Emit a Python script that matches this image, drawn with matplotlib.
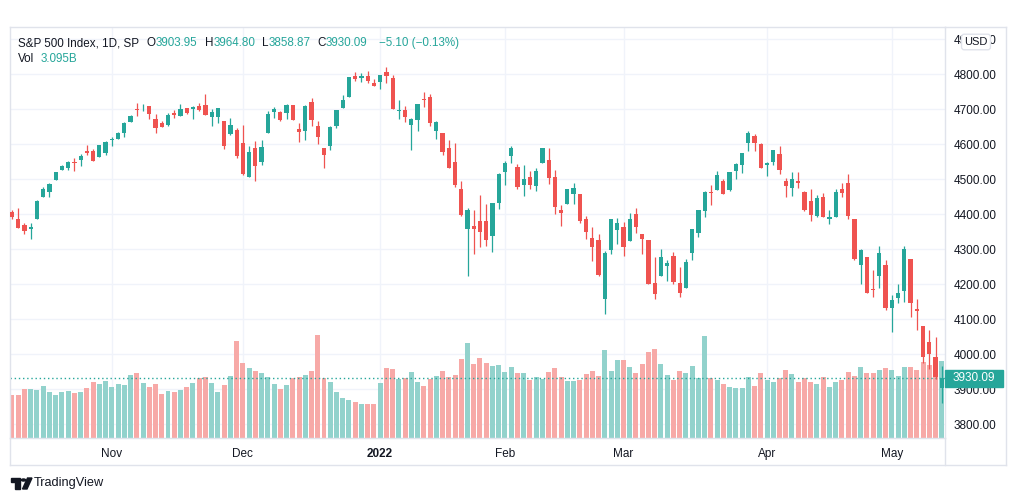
import numpy as np
import pandas as pd
import matplotlib
matplotlib.use("Agg")
import matplotlib.pyplot as plt
import matplotlib.transforms as mtransforms
from matplotlib.lines import Line2D
from matplotlib.patches import Rectangle, Polygon, Circle

plt.rcParams['font.family'] = ['Liberation Sans', 'DejaVu Sans']

# trading days shown (Oct 8 2021 .. May 12 2022)
holidays = ["2021-11-25", "2021-12-24", "2022-01-17", "2022-02-21", "2022-04-15"]
days = pd.bdate_range("2021-10-08", "2022-05-12", freq="C", holidays=holidays)

opens = [
    4406.5, 4385.4, 4368.3, 4358.0, 4386.8, 4447.7, 4463.7, 4497.3, 4524.4, 4532.2, 4546.1, 4553.7, 4578.7, 4580.2, 4562.8, 4572.9,
    4610.6, 4613.3, 4630.7, 4662.9, 4699.3, 4701.5, 4707.3, 4670.3, 4659.4, 4655.2, 4689.3, 4679.4, 4701.5, 4700.7, 4708.4, 4712.0, 4678.5, 4675.8, 4664.6, 4628.8, 4640.3,
    4602.8, 4504.7, 4589.5, 4548.4, 4632.0, 4690.9, 4691.0, 4687.6, 4710.3, 4643.0, 4636.5, 4719.1, 4652.5, 4587.9, 4595.0, 4650.4, 4704.0, 4734.0, 4795.5, 4788.6, 4794.2, 4775.2,
    4778.1, 4804.5, 4788.0, 4693.4, 4697.7, 4655.3, 4669.1, 4728.6, 4733.6, 4638.0, 4632.2, 4588.0, 4547.4, 4471.4, 4356.3, 4366.6, 4380.6, 4380.6, 4336.2, 4431.8,
    4519.6, 4566.4, 4535.4, 4482.8, 4505.8, 4480.0, 4547.0, 4553.2, 4506.3, 4412.6, 4429.3, 4455.8, 4456.1, 4384.6, 4332.7, 4324.9, 4155.8, 4298.4, 4354.2,
    4363.1, 4322.6, 4401.3, 4342.1, 4327.0, 4202.7, 4223.1, 4252.6, 4279.5, 4202.8, 4188.8, 4288.1, 4345.1, 4407.3, 4462.4, 4469.1, 4493.1, 4470.0, 4522.9, 4541.1, 4602.9, 4624.2, 4599.0,
    4540.3, 4548.0, 4572.5, 4494.2, 4474.7, 4494.2, 4462.6, 4437.6, 4394.3, 4449.1, 4385.6, 4390.6, 4472.3, 4489.2, 4385.8, 4255.3, 4278.1, 4186.5, 4222.6, 4253.8,
    4130.6, 4159.8, 4181.2, 4270.4, 4128.2, 4081.3, 4035.2, 3990.1, 3903.95,
]
highs = [
    4412.0, 4415.9, 4374.9, 4372.9, 4439.7, 4475.8, 4488.8, 4520.4, 4540.9, 4551.4, 4559.7, 4572.6, 4598.5, 4584.6, 4597.6, 4608.1,
    4620.3, 4635.2, 4663.5, 4683.0, 4718.5, 4714.9, 4708.5, 4684.9, 4664.6, 4688.5, 4697.4, 4715.0, 4701.5, 4708.8, 4717.8, 4743.8, 4699.4, 4702.9, 4664.6, 4673.0, 4646.0,
    4652.9, 4595.5, 4608.0, 4612.6, 4694.0, 4705.1, 4695.3, 4713.6, 4710.3, 4660.5, 4712.6, 4732.0, 4666.7, 4587.9, 4651.1, 4697.7, 4740.7, 4791.5, 4807.0, 4804.1, 4808.9, 4786.8,
    4796.6, 4818.6, 4797.7, 4725.0, 4708.0, 4673.0, 4714.1, 4748.8, 4744.1, 4665.1, 4632.2, 4611.6, 4602.1, 4494.5, 4417.4, 4411.0, 4453.2, 4428.7, 4432.7, 4516.9,
    4550.5, 4595.3, 4542.9, 4539.7, 4521.9, 4531.3, 4590.0, 4588.9, 4526.3, 4426.2, 4472.8, 4489.6, 4456.1, 4394.6, 4362.1, 4341.5, 4294.7, 4385.3, 4388.8,
    4378.5, 4401.5, 4416.8, 4342.1, 4327.0, 4276.9, 4299.4, 4268.3, 4291.0, 4247.6, 4271.1, 4357.9, 4412.7, 4465.4, 4481.8, 4522.0, 4501.1, 4520.6, 4546.0, 4575.7, 4637.3, 4627.8, 4603.1,
    4548.7, 4583.5, 4593.5, 4503.9, 4521.2, 4520.4, 4464.4, 4471.0, 4453.9, 4460.5, 4410.3, 4471.0, 4488.3, 4512.9, 4385.8, 4299.0, 4278.1, 4240.7, 4308.5, 4269.7,
    4169.8, 4200.1, 4307.7, 4270.4, 4157.7, 4081.3, 4068.8, 4049.1, 3964.80,
]
lows = [
    4386.2, 4360.6, 4342.1, 4329.9, 4386.8, 4447.7, 4447.5, 4496.4, 4524.4, 4526.9, 4524.0, 4537.4, 4569.2, 4551.7, 4562.8, 4567.6,
    4595.1, 4613.3, 4621.2, 4662.6, 4681.3, 4694.4, 4670.9, 4630.9, 4648.3, 4650.8, 4672.9, 4679.4, 4684.4, 4672.8, 4694.2, 4682.2, 4652.7, 4659.9, 4585.4, 4625.3, 4560.0,
    4510.3, 4504.7, 4495.1, 4540.5, 4632.0, 4674.5, 4666.0, 4670.2, 4667.6, 4606.5, 4611.2, 4651.9, 4600.2, 4531.1, 4583.2, 4645.5, 4704.0, 4734.0, 4780.0, 4778.1, 4775.3, 4765.8,
    4758.2, 4774.3, 4699.4, 4671.3, 4662.7, 4582.2, 4638.3, 4706.7, 4650.3, 4614.8, 4568.7, 4530.2, 4478.0, 4395.3, 4222.6, 4287.1, 4304.8, 4309.5, 4292.5, 4414.0,
    4483.5, 4544.3, 4470.4, 4451.5, 4471.5, 4465.4, 4547.0, 4484.3, 4401.4, 4364.8, 4429.3, 4429.7, 4373.8, 4327.2, 4267.1, 4221.5, 4114.7, 4286.8, 4315.1,
    4279.5, 4322.6, 4345.6, 4285.0, 4199.9, 4157.9, 4223.1, 4209.8, 4200.5, 4161.7, 4187.9, 4267.9, 4335.7, 4390.6, 4424.3, 4469.1, 4455.8, 4465.2, 4501.1, 4517.7, 4581.2, 4581.3, 4530.4,
    4507.6, 4539.2, 4514.2, 4450.0, 4450.3, 4474.6, 4408.4, 4381.3, 4392.7, 4390.8, 4370.3, 4390.6, 4448.8, 4384.5, 4267.6, 4200.8, 4175.0, 4162.9, 4188.6, 4124.3,
    4062.5, 4147.1, 4148.9, 4106.0, 4067.9, 3975.5, 3958.2, 3928.8, 3858.87,
]
closes = [
    4391.3, 4361.2, 4350.7, 4363.8, 4438.3, 4471.4, 4486.5, 4519.6, 4536.2, 4549.8, 4544.9, 4566.5, 4574.8, 4551.7, 4596.4, 4605.4,
    4613.7, 4630.7, 4660.6, 4680.1, 4697.5, 4701.7, 4685.3, 4646.7, 4649.3, 4682.9, 4682.8, 4700.9, 4688.7, 4704.5, 4698.0, 4682.9, 4690.7, 4701.5, 4594.6, 4655.3, 4567.0,
    4513.0, 4577.1, 4538.4, 4591.7, 4686.8, 4701.2, 4667.5, 4712.0, 4669.0, 4634.1, 4709.9, 4668.7, 4620.6, 4568.0, 4649.2, 4696.6, 4725.8, 4791.2, 4786.4, 4793.1, 4778.7, 4766.2,
    4796.6, 4793.5, 4700.6, 4696.1, 4677.0, 4670.3, 4713.1, 4726.4, 4659.0, 4662.9, 4577.1, 4532.8, 4482.7, 4397.9, 4410.1, 4356.5, 4349.9, 4326.5, 4431.9, 4515.6,
    4546.5, 4589.4, 4477.4, 4500.5, 4483.9, 4521.5, 4587.2, 4504.1, 4418.6, 4401.7, 4471.1, 4475.0, 4380.3, 4348.9, 4304.8, 4225.5, 4288.7, 4384.7, 4373.9,
    4306.3, 4386.5, 4363.5, 4328.9, 4201.1, 4170.7, 4277.9, 4259.5, 4204.3, 4173.1, 4262.5, 4357.9, 4411.7, 4463.1, 4461.2, 4511.6, 4456.2, 4520.2, 4543.1, 4575.5, 4631.6, 4602.5, 4530.4,
    4545.9, 4582.6, 4525.1, 4481.2, 4500.2, 4488.3, 4412.5, 4397.5, 4446.6, 4392.6, 4391.7, 4462.2, 4459.5, 4393.7, 4271.8, 4296.1, 4175.2, 4184.0, 4287.5, 4131.9,
    4155.4, 4175.5, 4300.2, 4146.9, 4123.3, 3991.2, 4001.1, 3935.2, 3930.09,
]
# volume, billions
volume = [
    1.74, 1.74, 1.97, 1.97, 1.94, 2.07, 1.86, 1.73, 1.85, 1.89, 1.81, 1.86, 2.01, 2.25, 2.18, 2.30,
    2.05, 2.18, 2.14, 2.54, 2.62, 2.21, 2.05, 2.18, 1.77, 1.89, 1.86, 1.94, 2.05, 2.21, 2.40, 2.45, 2.21, 1.86, 2.14, 2.48, 3.91,
    3.01, 2.81, 2.69, 2.61, 2.45, 2.18, 1.97, 2.13, 2.40, 2.45, 2.54, 2.69, 4.15, 2.41, 2.25, 1.86, 1.61, 1.53, 1.45, 1.37, 1.37, 1.37,
    2.21, 2.81, 2.77, 2.37, 2.41, 2.65, 2.25, 2.07, 2.37, 2.50, 2.69, 2.45, 2.54, 3.17, 3.82, 2.99, 3.21, 3.01, 2.90, 2.93,
    2.66, 2.85, 2.61, 2.61, 2.34, 2.45, 2.37, 2.66, 2.81, 2.45, 2.29, 2.29, 2.34, 2.58, 2.69, 2.50, 3.55, 2.69, 3.15,
    3.15, 2.85, 2.61, 2.99, 3.47, 3.57, 2.99, 2.53, 2.34, 2.69, 2.61, 2.90, 2.41, 4.08, 2.41, 2.34, 2.18, 2.03, 2.01, 1.99, 2.45, 2.10, 2.61,
    2.34, 2.26, 2.41, 2.74, 2.58, 2.26, 2.41, 2.24, 2.18, 2.45, 2.05, 2.24, 2.34, 2.64, 2.50, 2.85, 2.61, 2.61, 2.74, 2.82,
    2.74, 2.50, 2.85, 2.85, 2.72, 3.07, 2.93, 3.23, 3.095,
]

month_labels = ["Nov", "Dec", "2022", "Feb", "Mar", "Apr", "May"]
price_ticks = [3800, 3900, 4000, 4100, 4200, 4300, 4400, 4500, 4600, 4700, 4800, 4900]

UP, DOWN = "#26a69a", "#ef5350"
VUP, VDOWN = "#92d2cc", "#f7a9a7"
GRID, FRAME, TEXT = "#f0f3fa", "#e0e3eb", "#131722"

W, H = 1012, 501
def fx(px):
    return px / W
def fy(py):
    return 1 - py / H

o, h, l, c = map(np.array, (opens, highs, lows, closes))
v = np.array(volume)
x = np.arange(len(c))
up = c >= o
tick_pos = [i for i in range(1, len(days)) if days[i].month != days[i - 1].month]

fig = plt.figure(figsize=(W / 100, H / 100), dpi=100)
rect = [fx(10), fy(438), fx(945) - fx(10), fy(27) - fy(438)]
axv = fig.add_axes(rect)               # grid + volume (bottom layer)
ax = fig.add_axes(rect, sharex=axv)    # candles (top layer)
ax.patch.set_visible(False)

ax.set_xlim(-0.32, 149.52)
ax.set_ylim(3760, 4934.3)
axv.set_ylim(0, 16.5)

# grid below everything
for t in tick_pos:
    axv.axvline(t, color=GRID, lw=1, zorder=0)
blend = mtransforms.blended_transform_factory(axv.transAxes, ax.transData)
for p in price_ticks:
    axv.plot([0, 1], [p, p], color=GRID, lw=1, transform=blend, zorder=0)

axv.bar(x, v, 0.8, color=np.where(up, VUP, VDOWN), linewidth=0, zorder=2)
axv.set_yticks([])
axv.tick_params(labelbottom=False, length=0)
for s in axv.spines.values():
    s.set_visible(False)

# candles
col = np.where(up, UP, DOWN)
ax.vlines(x, l, h, colors=col, lw=0.9, zorder=3)
ax.bar(x, np.maximum(np.abs(c - o), 2.5), 0.68, bottom=np.minimum(o, c),
       color=col, linewidth=0, zorder=4)

# last price line
ax.axhline(c[-1], color=UP, lw=1, ls=(0, (1, 2)), zorder=2)

ax.yaxis.tick_right()
ax.set_yticks(price_ticks, [f"{p:.2f}" for p in price_ticks])
ax.set_xticks(tick_pos, month_labels)
ax.get_xticklabels()[2].set_fontweight("bold")
ax.tick_params(axis="y", length=0, pad=6, labelsize=8.5, labelcolor=TEXT)
ax.tick_params(axis="x", length=0, pad=7, labelsize=8.5, labelcolor=TEXT)
for s in ax.spines.values():
    s.set_color(FRAME)
    s.set_linewidth(1)

# price label on axis
pb = mtransforms.blended_transform_factory(ax.transAxes, ax.transData)
ax.add_patch(Rectangle((1.0, c[-1] - 23), 0.0625, 46, transform=pb, color=UP,
                       clip_on=False, zorder=6))
ax.text(1.0085, c[-1], f"{c[-1]:.2f}", transform=pb, color="white", fontsize=8.5,
        va="center", ha="left", zorder=7)

# outer frame
for xs, ys in [((10, 1006), (465, 465)), ((1006, 1006), (27, 465)), ((945, 1006), (27, 27)),
               ((10, 10), (438, 465)), ((945, 945), (438, 465))]:
    fig.add_artist(Line2D([fx(xs[0]), fx(xs[1])], [fy(ys[0]), fy(ys[1])],
                          transform=fig.transFigure, color=FRAME, lw=1))

fig.text(fx(976), fy(42), "USD", fontsize=8, color=TEXT, ha="center", va="center",
         bbox=dict(boxstyle="round,pad=0.25", fc="white", ec=FRAME, lw=1))

# legend line, laid out piece by piece
renderer = fig.canvas.get_renderer()
def row(pieces, px, py):
    for s, cc, gap in pieces:
        t = fig.text(fx(px), fy(py), s, fontsize=8.4, color=cc, ha="left", va="center")
        px += t.get_window_extent(renderer).width + gap

row([("S&P 500 Index, 1D, SP", TEXT, 8),
     ("O", TEXT, 0), ("3903.95", UP, 7),
     ("H", TEXT, 0), ("3964.80", UP, 7),
     ("L", TEXT, 0), ("3858.87", UP, 7),
     ("C", TEXT, 0), ("3930.09", UP, 12),
     ("\u22125.10 (\u22120.13%)", UP, 0)], 18, 43)
row([("Vol", TEXT, 6), ("3.095B", UP, 0)], 18, 59)

# TradingView mark
tf = fig.transFigure
def P(pts):
    return [(fx(a), fy(b)) for a, b in pts]
fig.add_artist(Polygon(P([(11, 478), (20, 478), (20, 489), (15.5, 489), (15.5, 482), (11, 482)]),
                       closed=True, transform=tf, color=TEXT))
fig.add_artist(Polygon(P([(27.5, 478), (32, 478), (27, 489), (22.5, 489)]),
                       closed=True, transform=tf, color=TEXT))
fig.add_artist(Circle((fx(23.5), fy(480)), 2.1 / W, transform=tf, color=TEXT))
fig.text(fx(34), fy(483), "TradingView", fontsize=9.2, color=TEXT, ha="left", va="center")

fig.savefig("out.png", dpi=100, facecolor="white")
